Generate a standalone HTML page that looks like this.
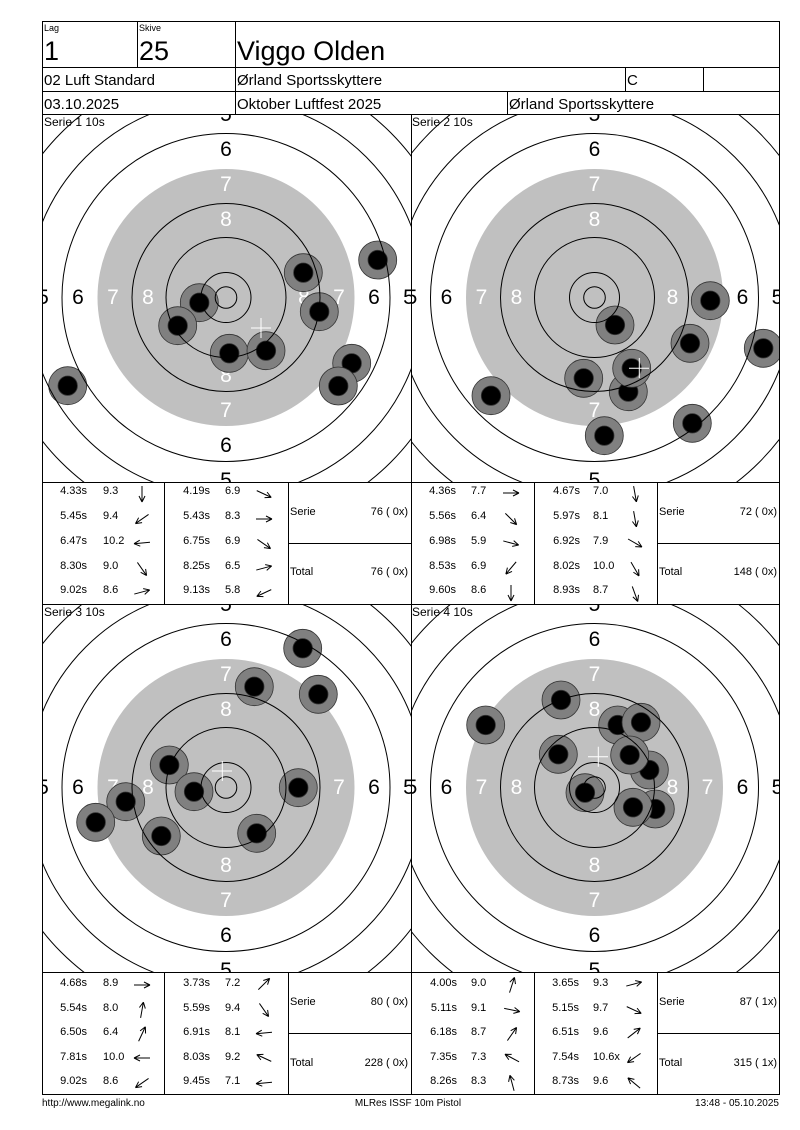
<!DOCTYPE html>
<html><head><meta charset="utf-8"><style>
html,body{margin:0;padding:0;background:#fff;}
svg{display:block;font-family:"Liberation Sans",Arial,sans-serif;}
</style></head><body>
<svg width="800" height="1130" viewBox="0 0 800 1130" xmlns="http://www.w3.org/2000/svg">
<defs>
<g id="rings" fill="none" stroke="#000" stroke-width="1">
<circle r="10.8"/><circle r="25"/><circle r="60"/><circle r="94"/><circle r="164"/><circle r="198.5"/><circle r="233"/><circle r="267.5"/>
</g>
<g id="arr" fill="none" stroke="#000" stroke-width="1"><path d="M-8,0 L8,0 M8,0 L2,-3 M8,0 L2,3"/></g>
<clipPath id="c1"><rect x="42" y="114" width="369" height="368"/></clipPath>
<clipPath id="c2"><rect x="411" y="114" width="368" height="368"/></clipPath>
<clipPath id="c3"><rect x="42" y="604" width="369" height="368"/></clipPath>
<clipPath id="c4"><rect x="411" y="604" width="368" height="368"/></clipPath>
</defs>

<!-- TARGET 1 -->
<g clip-path="url(#c1)">
<circle cx="226" cy="297.5" r="128.5" fill="#c0c0c0"/>
<g font-size="21" text-anchor="middle" dominant-baseline="central">
<text x="226" y="114.5">5</text><text x="226" y="149.5">6</text><text x="226" y="184.5" fill="#fff">7</text><text x="226" y="219.5" fill="#fff">8</text>
<text x="226" y="375.5" fill="#fff">8</text><text x="226" y="410.5" fill="#fff">7</text><text x="226" y="445.5">6</text><text x="226" y="480.5">5</text>
<text x="43" y="297.5">5</text><text x="78" y="297.5">6</text><text x="113" y="297.5" fill="#fff">7</text><text x="148" y="297.5" fill="#fff">8</text>
<text x="304" y="297.5" fill="#fff">8</text><text x="339" y="297.5" fill="#fff">7</text><text x="374" y="297.5">6</text><text x="409" y="297.5">5</text>
</g>
<g stroke="#333" stroke-width="0.8">
<circle cx="377.7" cy="260" r="19" fill="#808080"/><circle cx="377.7" cy="260" r="9.7"/>
<circle cx="303.3" cy="272.7" r="19" fill="#808080"/><circle cx="303.3" cy="272.7" r="9.7"/>
<circle cx="319.3" cy="311.7" r="19" fill="#808080"/><circle cx="319.3" cy="311.7" r="9.7"/>
<circle cx="199.3" cy="302.7" r="19" fill="#808080"/><circle cx="199.3" cy="302.7" r="9.7"/>
<circle cx="177.7" cy="325.7" r="19" fill="#808080"/><circle cx="177.7" cy="325.7" r="9.7"/>
<circle cx="229.3" cy="353.3" r="19" fill="#808080"/><circle cx="229.3" cy="353.3" r="9.7"/>
<circle cx="266" cy="350.7" r="19" fill="#808080"/><circle cx="266" cy="350.7" r="9.7"/>
<circle cx="351.7" cy="363.3" r="19" fill="#808080"/><circle cx="351.7" cy="363.3" r="9.7"/>
<circle cx="338.3" cy="386" r="19" fill="#808080"/><circle cx="338.3" cy="386" r="9.7"/>
<circle cx="67.7" cy="385.7" r="19" fill="#808080"/><circle cx="67.7" cy="385.7" r="9.7"/>
</g>
<use href="#rings" x="226" y="297.5"/>
<path d="M251,328 H271 M261,318 V338" stroke="#fff" stroke-width="1"/>
<text x="44" y="126" font-size="12">Serie 1 10s</text>
</g>

<!-- TARGET 2 -->
<g clip-path="url(#c2)">
<circle cx="594.5" cy="297.5" r="128.5" fill="#c0c0c0"/>
<g font-size="21" text-anchor="middle" dominant-baseline="central">
<text x="594.5" y="114.5">5</text><text x="594.5" y="149.5">6</text><text x="594.5" y="184.5" fill="#fff">7</text><text x="594.5" y="219.5" fill="#fff">8</text>
<text x="594.5" y="375.5" fill="#fff">8</text><text x="594.5" y="410.5" fill="#fff">7</text><text x="594.5" y="445.5">6</text><text x="594.5" y="480.5">5</text>
<text x="411.5" y="297.5">5</text><text x="446.5" y="297.5">6</text><text x="481.5" y="297.5" fill="#fff">7</text><text x="516.5" y="297.5" fill="#fff">8</text>
<text x="672.5" y="297.5" fill="#fff">8</text><text x="707.5" y="297.5" fill="#fff">7</text><text x="742.5" y="297.5">6</text><text x="777.5" y="297.5">5</text>
</g>
<g stroke="#333" stroke-width="0.8">
<circle cx="710.3" cy="300.7" r="19" fill="#808080"/><circle cx="710.3" cy="300.7" r="9.7"/>
<circle cx="615" cy="325" r="19" fill="#808080"/><circle cx="615" cy="325" r="9.7"/>
<circle cx="690" cy="343.3" r="19" fill="#808080"/><circle cx="690" cy="343.3" r="9.7"/>
<circle cx="763.3" cy="348.3" r="19" fill="#808080"/><circle cx="763.3" cy="348.3" r="9.7"/>
<circle cx="583.7" cy="378.3" r="19" fill="#808080"/><circle cx="583.7" cy="378.3" r="9.7"/>
<circle cx="628.3" cy="391.7" r="19" fill="#808080"/><circle cx="628.3" cy="391.7" r="9.7"/>
<circle cx="631.7" cy="368.3" r="19" fill="#808080"/><circle cx="631.7" cy="368.3" r="9.7"/>
<circle cx="491" cy="395.7" r="19" fill="#808080"/><circle cx="491" cy="395.7" r="9.7"/>
<circle cx="604.3" cy="435.7" r="19" fill="#808080"/><circle cx="604.3" cy="435.7" r="9.7"/>
<circle cx="692.3" cy="423.3" r="19" fill="#808080"/><circle cx="692.3" cy="423.3" r="9.7"/>
</g>
<use href="#rings" x="594.5" y="297.5"/>
<path d="M629,368.3 H649 M639.3,358 V378" stroke="#fff" stroke-width="1"/>
<text x="412" y="126" font-size="12">Serie 2 10s</text>
</g>

<!-- TARGET 3 -->
<g clip-path="url(#c3)">
<circle cx="226" cy="787.5" r="128.5" fill="#c0c0c0"/>
<g font-size="21" text-anchor="middle" dominant-baseline="central">
<text x="226" y="604.5">5</text><text x="226" y="639.5">6</text><text x="226" y="674.5" fill="#fff">7</text><text x="226" y="709.5" fill="#fff">8</text>
<text x="226" y="865.5" fill="#fff">8</text><text x="226" y="900.5" fill="#fff">7</text><text x="226" y="935.5">6</text><text x="226" y="970.5">5</text>
<text x="43" y="787.5">5</text><text x="78" y="787.5">6</text><text x="113" y="787.5" fill="#fff">7</text><text x="148" y="787.5" fill="#fff">8</text>
<text x="304" y="787.5" fill="#fff">8</text><text x="339" y="787.5" fill="#fff">7</text><text x="374" y="787.5">6</text><text x="409" y="787.5">5</text>
</g>
<g stroke="#333" stroke-width="0.8">
<circle cx="302.7" cy="648.3" r="19" fill="#808080"/><circle cx="302.7" cy="648.3" r="9.7"/>
<circle cx="254.3" cy="686.7" r="19" fill="#808080"/><circle cx="254.3" cy="686.7" r="9.7"/>
<circle cx="318.3" cy="694.3" r="19" fill="#808080"/><circle cx="318.3" cy="694.3" r="9.7"/>
<circle cx="169.3" cy="765" r="19" fill="#808080"/><circle cx="169.3" cy="765" r="9.7"/>
<circle cx="194" cy="791.7" r="19" fill="#808080"/><circle cx="194" cy="791.7" r="9.7"/>
<circle cx="298.3" cy="787.7" r="19" fill="#808080"/><circle cx="298.3" cy="787.7" r="9.7"/>
<circle cx="125.7" cy="801.7" r="19" fill="#808080"/><circle cx="125.7" cy="801.7" r="9.7"/>
<circle cx="95.7" cy="822.3" r="19" fill="#808080"/><circle cx="95.7" cy="822.3" r="9.7"/>
<circle cx="161.3" cy="836" r="19" fill="#808080"/><circle cx="161.3" cy="836" r="9.7"/>
<circle cx="256.7" cy="833.3" r="19" fill="#808080"/><circle cx="256.7" cy="833.3" r="9.7"/>
</g>
<use href="#rings" x="226" y="787.5"/>
<path d="M212,771 H232 M222.3,761 V781" stroke="#fff" stroke-width="1"/>
<text x="44" y="616" font-size="12">Serie 3 10s</text>
</g>

<!-- TARGET 4 -->
<g clip-path="url(#c4)">
<circle cx="594.5" cy="787.5" r="128.5" fill="#c0c0c0"/>
<g font-size="21" text-anchor="middle" dominant-baseline="central">
<text x="594.5" y="604.5">5</text><text x="594.5" y="639.5">6</text><text x="594.5" y="674.5" fill="#fff">7</text><text x="594.5" y="709.5" fill="#fff">8</text>
<text x="594.5" y="865.5" fill="#fff">8</text><text x="594.5" y="900.5" fill="#fff">7</text><text x="594.5" y="935.5">6</text><text x="594.5" y="970.5">5</text>
<text x="411.5" y="787.5">5</text><text x="446.5" y="787.5">6</text><text x="481.5" y="787.5" fill="#fff">7</text><text x="516.5" y="787.5" fill="#fff">8</text>
<text x="672.5" y="787.5" fill="#fff">8</text><text x="707.5" y="787.5" fill="#fff">7</text><text x="742.5" y="787.5">6</text><text x="777.5" y="787.5">5</text>
</g>
<g stroke="#333" stroke-width="0.8">
<circle cx="485.7" cy="725" r="19" fill="#808080"/><circle cx="485.7" cy="725" r="9.7"/>
<circle cx="561" cy="700" r="19" fill="#808080"/><circle cx="561" cy="700" r="9.7"/>
<circle cx="617.7" cy="725" r="19" fill="#808080"/><circle cx="617.7" cy="725" r="9.7"/>
<circle cx="641" cy="722.3" r="19" fill="#808080"/><circle cx="641" cy="722.3" r="9.7"/>
<circle cx="558.3" cy="754.3" r="19" fill="#808080"/><circle cx="558.3" cy="754.3" r="9.7"/>
<circle cx="649.3" cy="770" r="19" fill="#808080"/><circle cx="649.3" cy="770" r="9.7"/>
<circle cx="629.7" cy="755" r="19" fill="#808080"/><circle cx="629.7" cy="755" r="9.7"/>
<circle cx="585" cy="792.7" r="19" fill="#808080"/><circle cx="585" cy="792.7" r="9.7"/>
<circle cx="655.3" cy="809" r="19" fill="#808080"/><circle cx="655.3" cy="809" r="9.7"/>
<circle cx="633" cy="807.3" r="19" fill="#808080"/><circle cx="633" cy="807.3" r="9.7"/>
</g>
<use href="#rings" x="594.5" y="787.5"/>
<path d="M588,756.7 H608 M598.3,746.7 V766.7" stroke="#fff" stroke-width="1"/>
<text x="412" y="616" font-size="12">Serie 4 10s</text>
</g>

<!-- GRID LINES -->
<g stroke="#000" stroke-width="1" fill="none">
<rect x="42.5" y="21.5" width="737" height="1073"/>
<path d="M42,67.5H779 M42,91.5H779 M42,114.5H779 M42,482.5H779 M42,604.5H779 M42,972.5H779"/>
<path d="M137.5,21V67 M235.5,21V114 M625.5,67V91 M703.5,67V91 M507.5,91V114"/>
<path d="M411.5,114V1094"/>
<path d="M164.5,482V604 M288.5,482V604 M534.5,482V604 M657.5,482V604 M288,543.5H411 M657,543.5H779"/>
<path d="M164.5,972V1094 M288.5,972V1094 M534.5,972V1094 M657.5,972V1094 M288,1033.5H411 M657,1033.5H779"/>
</g>

<!-- HEADER -->
<g fill="#000">
<text x="44" y="31" font-size="9">Lag</text>
<text x="139" y="31" font-size="9">Skive</text>
<text x="44" y="60" font-size="27">1</text>
<text x="139" y="60" font-size="27">25</text>
<text x="237" y="60" font-size="27">Viggo Olden</text>
<text x="44" y="85" font-size="15">02 Luft Standard</text>
<text x="237" y="85" font-size="15">Ørland Sportsskyttere</text>
<text x="627" y="85" font-size="15">C</text>
<text x="44" y="109" font-size="15">03.10.2025</text>
<text x="237" y="109" font-size="15">Oktober Luftfest 2025</text>
<text x="509" y="109" font-size="15">Ørland Sportsskyttere</text>
</g>

<!-- TABLES -->
<g font-size="11" dominant-baseline="central">
<!-- table 1 -->
<g text-anchor="end">
<text x="87" y="491">4.33s</text><text x="87" y="516">5.45s</text><text x="87" y="541">6.47s</text><text x="87" y="566">8.30s</text><text x="87" y="590">9.02s</text>
<text x="210" y="491">4.19s</text><text x="210" y="516">5.43s</text><text x="210" y="541">6.75s</text><text x="210" y="566">8.25s</text><text x="210" y="590">9.13s</text>
<text x="456" y="491">4.36s</text><text x="456" y="516">5.56s</text><text x="456" y="541">6.98s</text><text x="456" y="566">8.53s</text><text x="456" y="590">9.60s</text>
<text x="580" y="491">4.67s</text><text x="580" y="516">5.97s</text><text x="580" y="541">6.92s</text><text x="580" y="566">8.02s</text><text x="580" y="590">8.93s</text>
<text x="87" y="983">4.68s</text><text x="87" y="1008">5.54s</text><text x="87" y="1032">6.50s</text><text x="87" y="1057">7.81s</text><text x="87" y="1081">9.02s</text>
<text x="210" y="983">3.73s</text><text x="210" y="1008">5.59s</text><text x="210" y="1032">6.91s</text><text x="210" y="1057">8.03s</text><text x="210" y="1081">9.45s</text>
<text x="457" y="983">4.00s</text><text x="457" y="1008">5.11s</text><text x="457" y="1032">6.18s</text><text x="457" y="1057">7.35s</text><text x="457" y="1081">8.26s</text>
<text x="579" y="983">3.65s</text><text x="579" y="1008">5.15s</text><text x="579" y="1032">6.51s</text><text x="579" y="1057">7.54s</text><text x="579" y="1081">8.73s</text>
<text x="408" y="512">76 ( 0x)</text><text x="408" y="572">76 ( 0x)</text>
<text x="777" y="512">72 ( 0x)</text><text x="777" y="572">148 ( 0x)</text>
<text x="408" y="1002">80 ( 0x)</text><text x="408" y="1063">228 ( 0x)</text>
<text x="777" y="1002">87 ( 1x)</text><text x="777" y="1063">315 ( 1x)</text>
</g>
<text x="103" y="491">9.3</text><text x="103" y="516">9.4</text><text x="103" y="541">10.2</text><text x="103" y="566">9.0</text><text x="103" y="590">8.6</text>
<text x="225" y="491">6.9</text><text x="225" y="516">8.3</text><text x="225" y="541">6.9</text><text x="225" y="566">6.5</text><text x="225" y="590">5.8</text>
<text x="471" y="491">7.7</text><text x="471" y="516">6.4</text><text x="471" y="541">5.9</text><text x="471" y="566">6.9</text><text x="471" y="590">8.6</text>
<text x="593" y="491">7.0</text><text x="593" y="516">8.1</text><text x="593" y="541">7.9</text><text x="593" y="566">10.0</text><text x="593" y="590">8.7</text>
<text x="103" y="983">8.9</text><text x="103" y="1008">8.0</text><text x="103" y="1032">6.4</text><text x="103" y="1057">10.0</text><text x="103" y="1081">8.6</text>
<text x="225" y="983">7.2</text><text x="225" y="1008">9.4</text><text x="225" y="1032">8.1</text><text x="225" y="1057">9.2</text><text x="225" y="1081">7.1</text>
<text x="471" y="983">9.0</text><text x="471" y="1008">9.1</text><text x="471" y="1032">8.7</text><text x="471" y="1057">7.3</text><text x="471" y="1081">8.3</text>
<text x="593" y="983">9.3</text><text x="593" y="1008">9.7</text><text x="593" y="1032">9.6</text><text x="593" y="1057">10.6x</text><text x="593" y="1081">9.6</text>
<text x="290" y="512">Serie</text><text x="290" y="572">Total</text>
<text x="659" y="512">Serie</text><text x="659" y="572">Total</text>
<text x="290" y="1002">Serie</text><text x="290" y="1063">Total</text>
<text x="659" y="1002">Serie</text><text x="659" y="1063">Total</text>
</g>

<!-- ARROWS -->
<g>
<use href="#arr" transform="translate(142,494) rotate(90)"/>
<use href="#arr" transform="translate(142,519) rotate(145)"/>
<use href="#arr" transform="translate(142,543) rotate(175)"/>
<use href="#arr" transform="translate(142,569) rotate(55)"/>
<use href="#arr" transform="translate(142,592) rotate(-15)"/>
<use href="#arr" transform="translate(264,494) rotate(25)"/>
<use href="#arr" transform="translate(264,519) rotate(0)"/>
<use href="#arr" transform="translate(264,544) rotate(35)"/>
<use href="#arr" transform="translate(264,568) rotate(-15)"/>
<use href="#arr" transform="translate(264,593) rotate(155)"/>

<use href="#arr" transform="translate(511,493) rotate(0)"/>
<use href="#arr" transform="translate(511,519) rotate(45)"/>
<use href="#arr" transform="translate(511,543) rotate(15)"/>
<use href="#arr" transform="translate(511,568) rotate(130)"/>
<use href="#arr" transform="translate(511,593) rotate(90)"/>
<use href="#arr" transform="translate(635,494) rotate(80)"/>
<use href="#arr" transform="translate(635,519) rotate(80)"/>
<use href="#arr" transform="translate(635,543) rotate(30)"/>
<use href="#arr" transform="translate(635,569) rotate(60)"/>
<use href="#arr" transform="translate(635,594) rotate(70)"/>

<use href="#arr" transform="translate(142,985) rotate(0)"/>
<use href="#arr" transform="translate(142,1010) rotate(-80)"/>
<use href="#arr" transform="translate(142,1034) rotate(-65)"/>
<use href="#arr" transform="translate(142,1058) rotate(180)"/>
<use href="#arr" transform="translate(142,1083) rotate(145)"/>
<use href="#arr" transform="translate(264,984) rotate(-45)"/>
<use href="#arr" transform="translate(264,1010) rotate(55)"/>
<use href="#arr" transform="translate(264,1033) rotate(175)"/>
<use href="#arr" transform="translate(264,1058) rotate(-155)"/>
<use href="#arr" transform="translate(264,1083) rotate(175)"/>

<use href="#arr" transform="translate(512,985) rotate(-72)"/>
<use href="#arr" transform="translate(512,1010) rotate(12)"/>
<use href="#arr" transform="translate(512,1034) rotate(-55)"/>
<use href="#arr" transform="translate(512,1058) rotate(-152)"/>
<use href="#arr" transform="translate(512,1083) rotate(-105)"/>
<use href="#arr" transform="translate(634,984) rotate(-15)"/>
<use href="#arr" transform="translate(634,1010) rotate(25)"/>
<use href="#arr" transform="translate(634,1033) rotate(-38)"/>
<use href="#arr" transform="translate(634,1058) rotate(145)"/>
<use href="#arr" transform="translate(634,1083) rotate(-140)"/>
</g>

<!-- FOOTER -->
<g font-size="10">
<text x="42" y="1106">http://www.megalink.no</text>
<text x="408" y="1106" text-anchor="middle">MLRes ISSF 10m Pistol</text>
<text x="779" y="1106" text-anchor="end">13:48 - 05.10.2025</text>
</g>
</svg>
</body></html>
